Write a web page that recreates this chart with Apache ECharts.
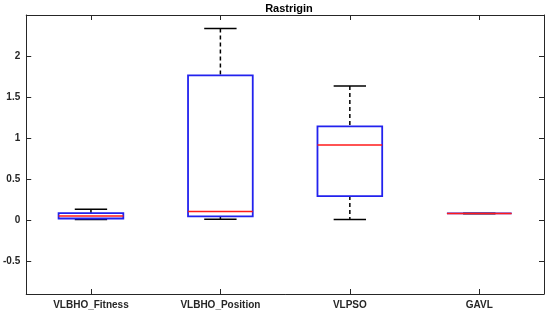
<!DOCTYPE html>
<html><head><meta charset="utf-8">
<script src="https://cdn.jsdelivr.net/npm/echarts@6/dist/echarts.min.js"></script>
<style>html,body{margin:0;padding:0;background:#fff}#c{width:550px;height:314px}</style>
</head><body><div id="c"></div>
<script>
const categories = ['VLBHO_Fitness', 'VLBHO_Position', 'VLPSO', 'GAVL'];
// [min, q1, median, q3, max]
const lowWhisker = [0.008, 0.01, 0.009, 0.082];
const q1Values   = [0.02, 0.045, 0.293, 0.082];
const medians    = [0.05, 0.106, 0.915, 0.082];
const q3Values   = [0.085, 1.765, 1.143, 0.082];
const highWhisker= [0.134, 2.334, 1.634, 0.082];
const yTicks = [-0.5, 0, 0.5, 1, 1.5, 2];
const yMin = -0.9, yMax = 2.5;

const boxData = categories.map((c, i) => [i, lowWhisker[i], q1Values[i], medians[i], q3Values[i], highWhisker[i]]);

const axisColor = '#262626';
const font = 'Liberation Sans, Arial, sans-serif';

function renderItem(params, api) {
  const x = api.value(0);
  const band = api.size([1, 0])[0];
  const bw = band * 0.5, cw = band * 0.25;
  const pMin = api.coord([x, api.value(1)]);
  const pQ1 = api.coord([x, api.value(2)]);
  const pMed = api.coord([x, api.value(3)]);
  const pQ3 = api.coord([x, api.value(4)]);
  const pMax = api.coord([x, api.value(5)]);
  const cx = pMed[0];
  const wStyle = {stroke: '#000', lineWidth: 1.5, lineDash: [4, 3]};
  const cStyle = {stroke: '#000', lineWidth: 1.5};
  const children = [];
  if (pMax[1] < pQ3[1]) children.push({type: 'line', shape: {x1: cx, y1: pMax[1], x2: cx, y2: pQ3[1]}, style: wStyle});
  if (pMin[1] > pQ1[1]) children.push({type: 'line', shape: {x1: cx, y1: pQ1[1], x2: cx, y2: pMin[1]}, style: wStyle});
  children.push({type: 'line', shape: {x1: cx - cw / 2, y1: pMax[1], x2: cx + cw / 2, y2: pMax[1]}, style: cStyle});
  children.push({type: 'line', shape: {x1: cx - cw / 2, y1: pMin[1], x2: cx + cw / 2, y2: pMin[1]}, style: cStyle});
  children.push({type: 'rect', shape: {x: cx - bw / 2, y: pQ3[1], width: bw, height: pQ1[1] - pQ3[1]}, style: {fill: 'none', stroke: '#2222ee', lineWidth: 1.8}});
  children.push({type: 'line', shape: {x1: cx - bw / 2, y1: pMed[1], x2: cx + bw / 2, y2: pMed[1]}, style: {stroke: '#ff1a1a', lineWidth: 1.5}});
  return {type: 'group', children};
}

const chart = echarts.init(document.getElementById('c'), null, {renderer: 'canvas'});
chart.setOption({
  animation: false,
  title: {text: 'Rastrigin', left: 284, textAlign: 'center', top: -2,
    textStyle: {fontFamily: font, fontWeight: 'bold', fontSize: 11, color: '#000'}},
  grid: {left: 24, right: 6, top: 15, bottom: 20, containLabel: false},
  xAxis: [
    {type: 'category', data: categories, position: 'bottom', boundaryGap: true,
      axisLine: {show: true, onZero: false, lineStyle: {color: axisColor, width: 1}},
      axisTick: {show: true, inside: true, alignWithLabel: true, length: 5, lineStyle: {color: axisColor}},
      axisLabel: {fontFamily: font, fontWeight: 'bold', fontSize: 10, color: axisColor, margin: 6}},
    {type: 'category', data: categories, position: 'top', boundaryGap: true,
      axisLine: {show: true, onZero: false, lineStyle: {color: axisColor, width: 1}},
      axisTick: {show: true, inside: true, alignWithLabel: true, length: 5, lineStyle: {color: axisColor}},
      axisLabel: {show: false}}
  ],
  yAxis: [
    {type: 'value', min: yMin, max: yMax, position: 'left',
      axisLine: {show: true, onZero: false, lineStyle: {color: axisColor, width: 1}},
      axisTick: {show: true, inside: true, length: 5, customValues: yTicks, lineStyle: {color: axisColor}},
      axisLabel: {customValues: yTicks, fontFamily: font, fontWeight: 'bold', fontSize: 10, color: axisColor, margin: 6},
      splitLine: {show: false}},
    {type: 'value', min: yMin, max: yMax, position: 'right',
      axisLine: {show: true, onZero: false, lineStyle: {color: axisColor, width: 1}},
      axisTick: {show: true, inside: true, length: 5, customValues: yTicks, lineStyle: {color: axisColor}},
      axisLabel: {show: false},
      splitLine: {show: false}}
  ],
  series: [{
    type: 'custom', xAxisIndex: 0, yAxisIndex: 0,
    renderItem: renderItem,
    encode: {x: 0, y: [1, 2, 3, 4, 5]},
    data: boxData, clip: false
  }]
});
</script></body></html>
